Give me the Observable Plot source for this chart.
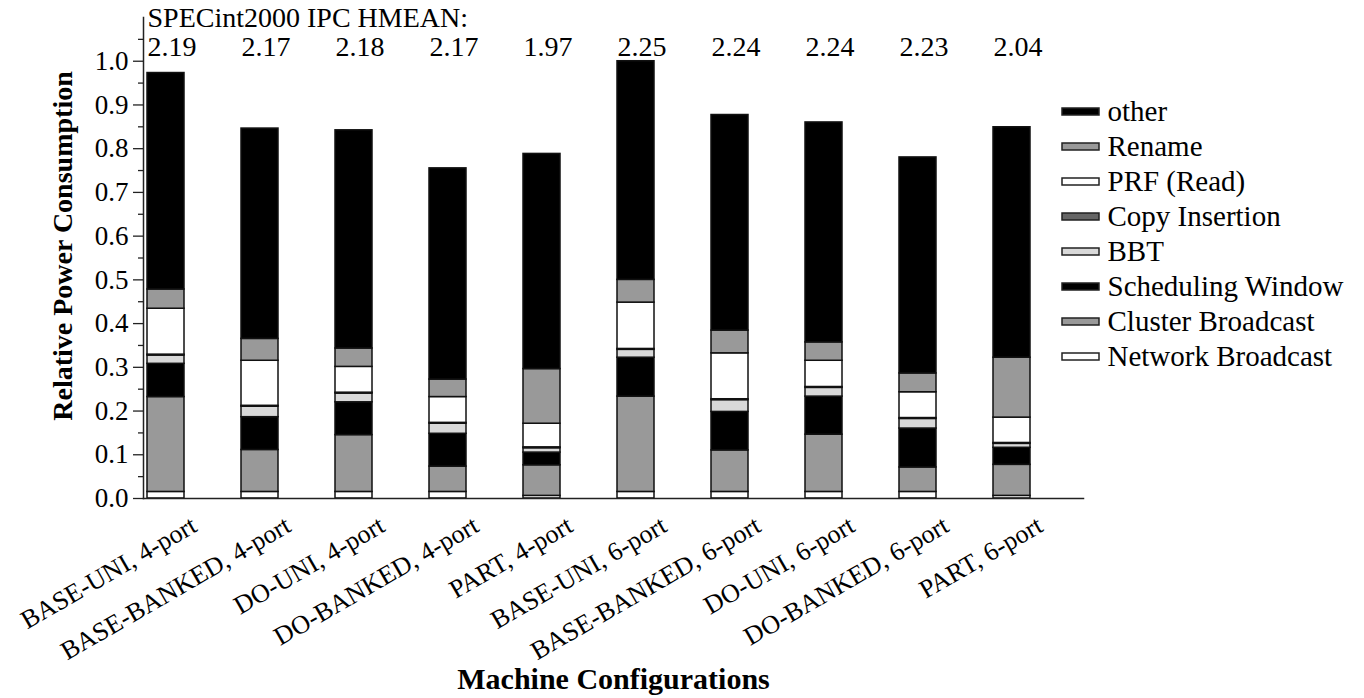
<!DOCTYPE html>
<html>
<head>
<meta charset="utf-8">
<script src="https://cdn.jsdelivr.net/npm/d3@7"></script>
<script src="https://cdn.jsdelivr.net/npm/@observablehq/plot@0.6"></script>
<style>
  html, body { margin: 0; padding: 0; background: #fff; }
  #wrap { position: relative; width: 1364px; height: 698px; }
  #legend { position: absolute; left: 1062px; top: 92px; width: 302px; }
</style>
</head>
<body>
<div id="wrap"><div id="legend"></div></div>
<script>
// ---- data ----
const configs = [
  "BASE-UNI, 4-port", "BASE-BANKED, 4-port", "DO-UNI, 4-port", "DO-BANKED, 4-port", "PART, 4-port",
  "BASE-UNI, 6-port", "BASE-BANKED, 6-port", "DO-UNI, 6-port", "DO-BANKED, 6-port", "PART, 6-port"
];
const ipcHmean = [2.19, 2.17, 2.18, 2.17, 1.97, 2.25, 2.24, 2.24, 2.23, 2.04];

// stacking order, bottom to top
const components = ["Network Broadcast", "Cluster Broadcast", "Scheduling Window", "BBT",
                    "Copy Insertion", "PRF (Read)", "Rename", "other"];

const networkBroadcast = [0.015, 0.015, 0.015, 0.015, 0.006, 0.015, 0.015, 0.015, 0.015, 0.006];
const clusterBroadcast = [0.217, 0.096, 0.130, 0.058, 0.070, 0.218, 0.095, 0.131, 0.056, 0.071];
const schedulingWindow = [0.076, 0.075, 0.075, 0.075, 0.029, 0.089, 0.088, 0.087, 0.089, 0.039];
const bbt              = [0.019, 0.024, 0.020, 0.023, 0.010, 0.018, 0.027, 0.020, 0.022, 0.009];
const copyInsertion    = [0.002, 0.002, 0.002, 0.002, 0.002, 0.002, 0.002, 0.002, 0.002, 0.002];
const prfRead          = [0.105, 0.103, 0.059, 0.059, 0.054, 0.106, 0.105, 0.060, 0.059, 0.058];
const rename           = [0.044, 0.050, 0.042, 0.040, 0.125, 0.052, 0.052, 0.042, 0.043, 0.137];
const other            = [0.495, 0.481, 0.499, 0.483, 0.492, 0.500, 0.493, 0.503, 0.494, 0.527];

const yTicks = [0, 0.1, 0.2, 0.3, 0.4, 0.5, 0.6, 0.7, 0.8, 0.9, 1.0];
const yMinorTicks = [0.05, 0.15, 0.25, 0.35, 0.45, 0.55, 0.65, 0.75, 0.85, 0.95, 1.05];

// ---- styles ----
const colors = ["#ffffff", "#999999", "#000000", "#d9d9d9", "#666666", "#ffffff", "#999999", "#000000"];

const series = [networkBroadcast, clusterBroadcast, schedulingWindow, bbt, copyInsertion, prfRead, rename, other];
const rows = [];
configs.forEach((c, i) => {
  components.forEach((comp, k) => rows.push({config: c, component: comp, value: series[k][i]}));
});
const ipcRows = configs.map((c, i) => ({config: c, ipc: ipcHmean[i]}));

const FONT = "Liberation Serif";
const T = {fontFamily: FONT};

const chart = Plot.plot({
  width: 1364,
  height: 698,
  marginLeft: 143,
  marginRight: 281,
  marginTop: 17,
  marginBottom: 200,
  style: {fontFamily: FONT, background: "transparent", color: "#000", overflow: "visible"},
  x: {type: "band", domain: configs, padding: 0, axis: null},
  y: {domain: [0, 1.1], axis: null},
  color: {type: "ordinal", domain: components, range: colors},
  marks: [
    Plot.barY(rows, Plot.stackY({
      x: "config", y: "value", fill: "component", order: components,
      stroke: "#111", strokeWidth: 1.5, insetLeft: 4, insetRight: 53
    })),
    Plot.axisY({ticks: yTicks, tickSize: 10, text: null, label: null, stroke: "#222", strokeWidth: 1.3}),
    Plot.axisY({ticks: yMinorTicks, tickSize: 5, text: null, label: null, stroke: "#222", strokeWidth: 1.3}),
    Plot.text(yTicks, {...T, y: d => d, text: d3.format(".1f"), frameAnchor: "left", textAnchor: "end",
                       lineAnchor: "middle", dx: -15, fontSize: 27}),
    Plot.frame({anchor: "left", stroke: "#222", strokeWidth: 1.5}),
    Plot.frame({anchor: "bottom", stroke: "#222", strokeWidth: 1.5}),
    Plot.text(configs, {...T, x: d => d, text: d => d, frameAnchor: "bottom", rotate: -30,
                        textAnchor: "end", lineAnchor: "bottom", dx: 8, dy: 32, fontSize: 26}),
    Plot.text(["Machine Configurations"], {...T, text: d => d, frameAnchor: "bottom", textAnchor: "middle",
                        lineAnchor: "bottom", dy: 190, fontSize: 30, fontWeight: "bold"}),
    Plot.text(["Relative Power Consumption"], {...T, text: d => d, frameAnchor: "left", rotate: -90,
                        textAnchor: "middle", lineAnchor: "bottom", dx: -72, dy: -12,
                        fontSize: 28, fontWeight: "bold"}),
    Plot.text(["SPECint2000 IPC HMEAN:"], {...T, text: d => d, frameAnchor: "top-left", textAnchor: "start",
                        lineAnchor: "bottom", dx: 4, dy: 9, fontSize: 28}),
    Plot.text(ipcRows, {...T, x: "config", text: d => d.ipc.toFixed(2), frameAnchor: "top", textAnchor: "start",
                        lineAnchor: "bottom", dx: -43, dy: 38, fontSize: 28})
  ]
});
const wrap = document.getElementById("wrap");
wrap.insertBefore(chart, wrap.firstChild);

// legend (top to bottom = reverse stacking order), drawn with Plot
const legendItems = components.slice().reverse();
const legendPlot = Plot.plot({
  width: 302,
  height: 284,
  margin: 0,
  style: {fontFamily: FONT, background: "transparent", color: "#000", overflow: "visible", maxWidth: "none"},
  x: {type: "band", domain: ["swatch"], range: [0, 37], padding: 0, axis: null},
  y: {type: "band", domain: legendItems, padding: 0, axis: null},
  color: {type: "ordinal", domain: components, range: colors},
  marks: [
    Plot.cell(legendItems, {x: () => "swatch", y: d => d, fill: d => d, stroke: "#222", strokeWidth: 1.5,
                            insetTop: 14, insetBottom: 14}),
    Plot.text(legendItems, {...T, y: d => d, text: d => d, frameAnchor: "left", textAnchor: "start",
                            lineAnchor: "middle", dx: 45, fontSize: 29})
  ]
});
document.getElementById("legend").appendChild(legendPlot);
</script>
</body>
</html>
